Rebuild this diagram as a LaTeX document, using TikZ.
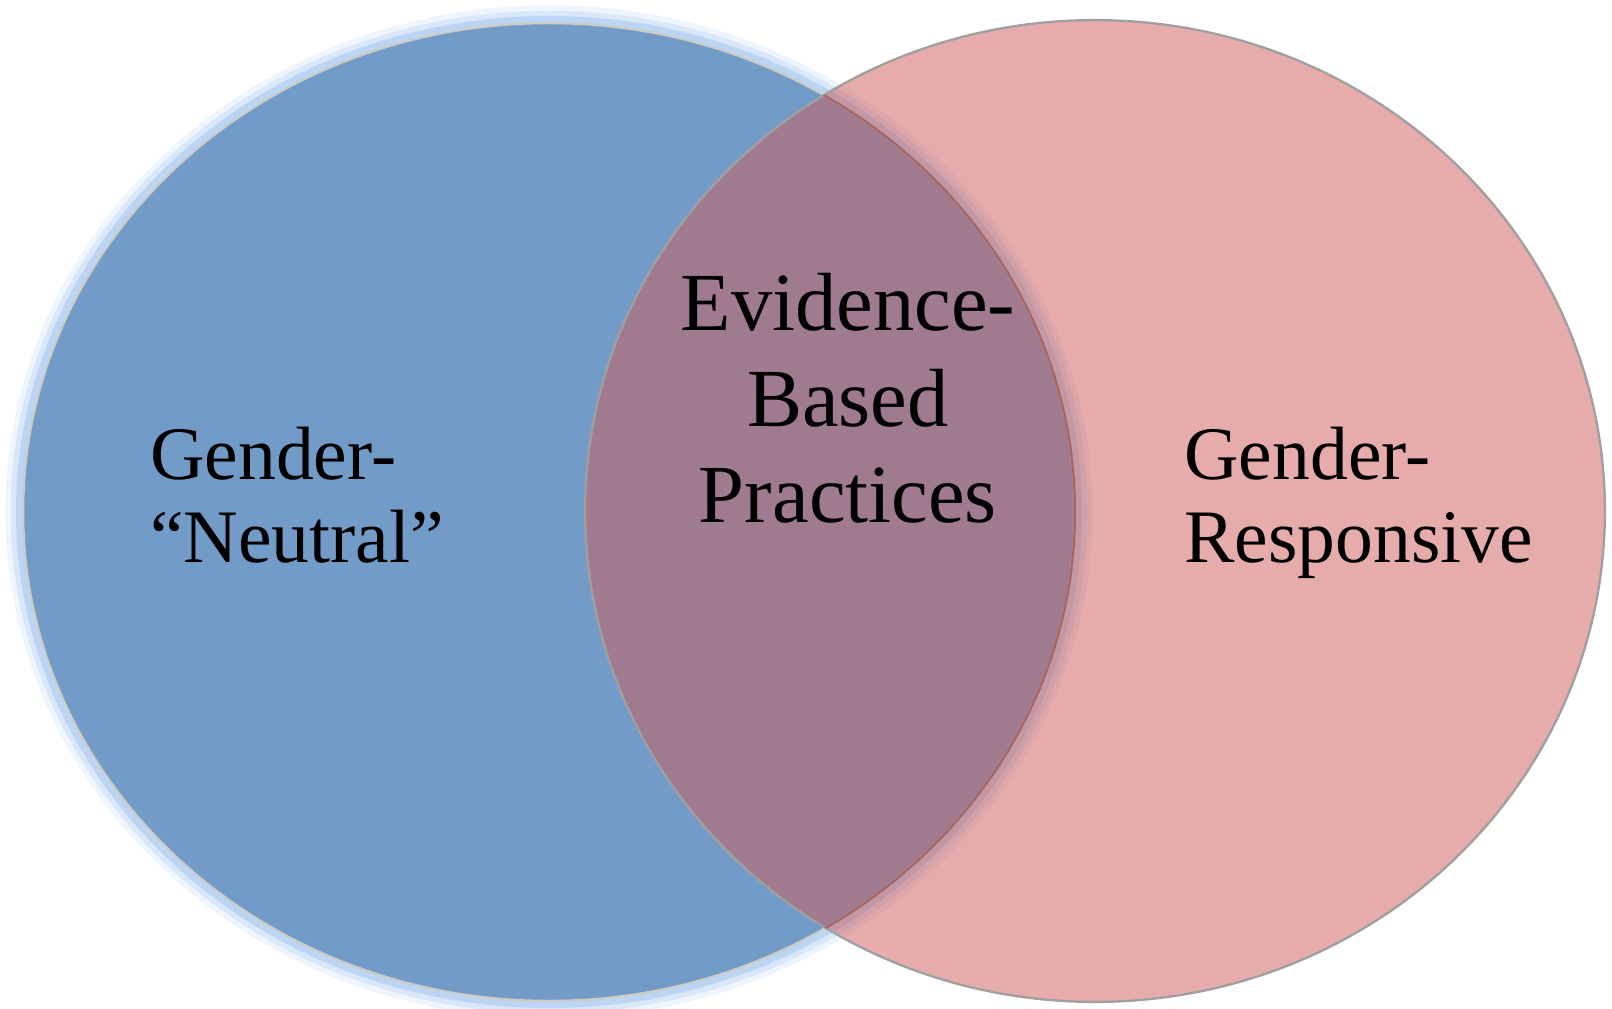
\documentclass[tikz,border=0pt]{standalone}
\usepackage{fontspec}
\setmainfont{Liberation Serif}
\usetikzlibrary{shapes,positioning}
\definecolor{setblue}{RGB}{115,155,200}
\definecolor{setred}{RGB}{204,92,90}
\definecolor{glowblue}{RGB}{120,170,235}
\definecolor{rimgray}{RGB}{205,205,200}

\begin{document}
\begin{tikzpicture}[x=0.02cm, y=-0.02cm,
  set/.style={ellipse, inner sep=0pt, line width=1.3pt},
  setlabel/.style={inner sep=0pt, align=left, text=black, font=\fontsize{43}{47}\selectfont}]
\useasboundingbox (0,0) rectangle (1612,1008);
% soft halo round the left set
\foreach \w/\o in {20/0.12, 14/0.18, 8/0.3}
  \draw[glowblue, line width=\w pt, opacity=\o] (549,512) ellipse [x radius=526, y radius=489];
\node (neutral) [set, draw=rimgray, fill=setblue, minimum width=21.04cm, minimum height=19.56cm] at (549,512) {};
\node (responsive) [set, draw=gray!75, fill=setred, fill opacity=0.51, minimum width=20.4cm, minimum height=19.64cm] at (1095,511) {};
% edge of the left set seen through the right one
\begin{scope}
  \clip (1095,511) ellipse [x radius=510, y radius=491];
  \draw[setred!55!black, opacity=0.45, line width=1.2pt] (549,512) ellipse [x radius=526, y radius=489];
\end{scope}
% base anchor sits on the last line
\node (neutrallabel) [setlabel, anchor=base west] at (150,562) {Gender-\\“Neutral”};
\node (evidence) [setlabel, align=center, anchor=base, font=\fontsize{47}{54.5}\selectfont] at (848,522) {Evidence-\\Based\\Practices};
\node (responsivelabel) [setlabel, anchor=base west] at (1184,562) {Gender-\\Responsive};
\end{tikzpicture}
\end{document}
